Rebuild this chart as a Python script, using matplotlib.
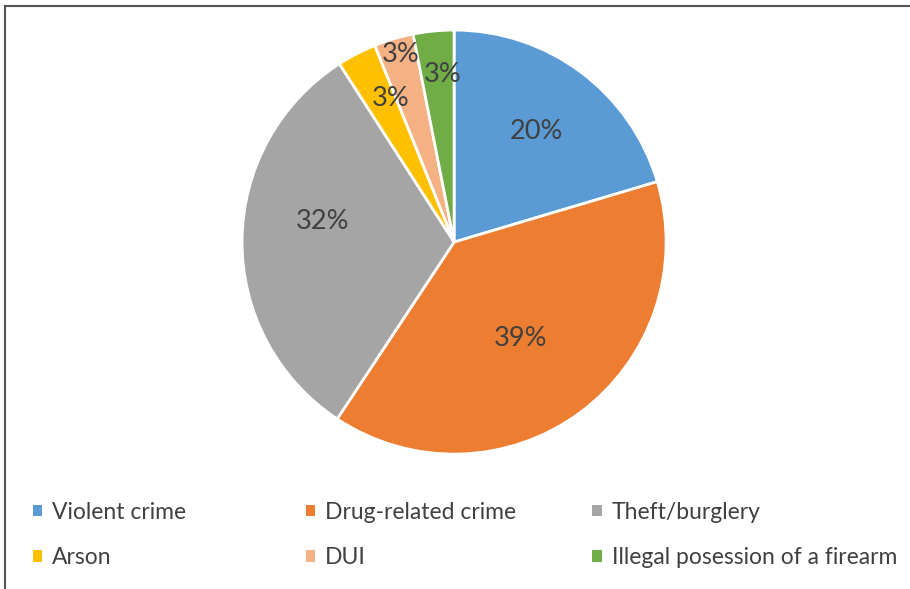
import numpy as np
import matplotlib.pyplot as plt
from matplotlib.lines import Line2D
from matplotlib.patches import Patch

plt.rcParams['font.family'] = ['Lato', 'DejaVu Sans']

# crime categories and share of cases (%)
categories = ['Violent crime', 'Drug-related crime', 'Theft/burglery',
              'Arson', 'DUI', 'Illegal posession of a firearm']
shares = [20.4, 38.9, 31.6, 3.0, 3.0, 3.1]
pct_labels = ['20%', '39%', '32%', '3%', '3%', '3%']
colors = ['#5B9BD5', '#ED7D31', '#A5A5A5', '#FFC000', '#F4B183', '#70AD47']

# label placement tweaks (radius as fraction of pie, angle offset in degrees)
label_r = [0.65, 0.55, 0.63, 0.74, 0.92, 0.79]
label_dang = [0.2, -2, -8.6, -3.6, -0.6, -1.6]

fig = plt.figure(figsize=(9.10, 5.89), dpi=100)
ax = fig.add_axes([0.266, 0.229, 0.466, 0.72])

wedges, _ = ax.pie(shares, colors=colors, startangle=90, counterclock=False,
                   wedgeprops=dict(edgecolor='white', linewidth=2))
for w, lab, r, da in zip(wedges, pct_labels, label_r, label_dang):
    mid = np.deg2rad((w.theta1 + w.theta2) / 2 + da)
    ax.text(r * np.cos(mid), r * np.sin(mid), lab, ha='center', va='center',
            fontsize=19.5, color='#404040')
ax.set_xlim(-1, 1)
ax.set_ylim(-1, 1)
ax.set_aspect('equal')
ax.axis('off')

# legend laid out in three columns, row-major like the original
handles = [Patch(facecolor=c, edgecolor='none') for c in colors]
col_x = [0.036, 0.336, 0.651]
for i, x in enumerate(col_x):
    idx = [i, i + 3]
    fig.legend([handles[j] for j in idx], [categories[j] for j in idx],
               loc='upper left', bbox_to_anchor=(x, 0.148),
               frameon=False, fontsize=16.5, handlelength=0.4,
               handleheight=0.4, handletextpad=0.45, labelspacing=1.07,
               borderpad=0, borderaxespad=0, labelcolor='#404040')

# partial outer frame (top and left edges)
fig.add_artist(Line2D([0.0055, 1.0], [0.99, 0.99], color='#555555', lw=1.5,
                      transform=fig.transFigure))
fig.add_artist(Line2D([0.0055, 0.0055], [0.0, 0.99], color='#555555', lw=1.5,
                      transform=fig.transFigure))

fig.savefig('out.png', dpi=100)
